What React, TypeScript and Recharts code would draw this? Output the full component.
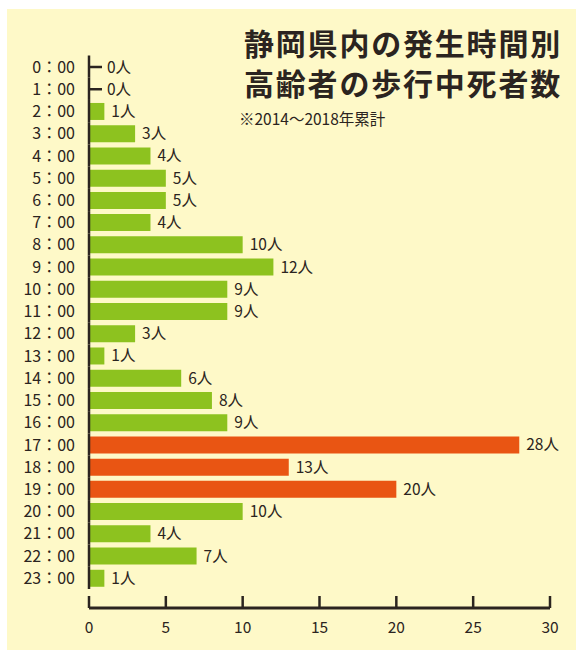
import { BarChart, Bar, XAxis, YAxis, Cell, LabelList, Rectangle } from 'recharts';

const hours = [
  '0：00', '1：00', '2：00', '3：00', '4：00', '5：00', '6：00', '7：00',
  '8：00', '9：00', '10：00', '11：00', '12：00', '13：00', '14：00', '15：00',
  '16：00', '17：00', '18：00', '19：00', '20：00', '21：00', '22：00', '23：00',
];
const deaths = [0, 0, 1, 3, 4, 5, 5, 4, 10, 12, 9, 9, 3, 1, 6, 8, 9, 28, 13, 20, 10, 4, 7, 1];
const peakHours = ['17：00', '18：00', '19：00'];
const xTicks = [0, 5, 10, 15, 20, 25, 30];

const titleLines = ['静岡県内の発生時間別', '高齢者の歩行中死者数'];
const note = '※2014～2018年累計';
const unit = '人';

const GREEN = '#8dc21f';
const ORANGE = '#e95513';
const INK = '#2b2420';
const CREAM = '#fef9c8';
const FONT = '"Noto Sans CJK JP", "Noto Sans", sans-serif';
const BAND = 22.23;

const data = hours.map((h, i) => ({ hour: h, value: deaths[i] }));

function HourTick(props: any) {
  const { x, y, payload } = props;
  return (
    <g>
      <line x1={x} x2={x} y1={y - BAND / 2} y2={y + BAND / 2} stroke={INK} strokeWidth={2.5} />
      <text x={x - 14} y={y} dy={6} textAnchor="end" fill={INK} fontSize={16} fontFamily={FONT}>
        {payload.value}
      </text>
    </g>
  );
}

function CountTick(props: any) {
  const { x, y, payload } = props;
  return (
    <g>
      <line x1={x} x2={x} y1={y - 12} y2={y} stroke={INK} strokeWidth={2.5} />
      <text x={x} y={y} dy={25} textAnchor="middle" fill={INK} fontSize={15.5} fontFamily={FONT}>
        {payload.value}
      </text>
    </g>
  );
}

// zero-length bars show a short dash off the axis plus their label
function BarShape(props: any) {
  const { x, y, width, height, value } = props;
  const v = Array.isArray(value) ? value[1] : value;
  if (!v) {
    const cy = y + height / 2;
    return (
      <g>
        <line x1={x} x2={x + 13} y1={cy} y2={cy} stroke={INK} strokeWidth={2.5} />
        <text x={x + 18} y={cy} dy={5.5} fill={INK} fontSize={15.5} fontFamily={FONT}>
          0{unit}
        </text>
      </g>
    );
  }
  return <Rectangle {...props} />;
}

function ValueLabel(props: any) {
  const { x, y, width, height, value } = props;
  if (!value) return null;
  const cy = y + height / 2;
  return (
    <text x={x + width + 7} y={cy} dy={5.5} fill={INK} fontSize={15.5} fontFamily={FONT}>
      {value}{unit}
    </text>
  );
}

export default function App() {
  return (
    <div style={{ position: 'absolute', left: 0, top: 0, width: 576, height: 650, background: '#fff' }}>
      <div style={{ position: 'absolute', left: 7, top: 9, width: 569, height: 641, background: CREAM }} />
      <div style={{ position: 'absolute', left: 0, top: 0 }}>
        <BarChart
          width={576}
          height={650}
          data={data}
          layout="vertical"
          margin={{ top: 55.5, right: 26, bottom: 0, left: 0 }}
        >
          <XAxis
            type="number"
            domain={[0, 30]}
            ticks={xTicks}
            height={42}
            axisLine={{ stroke: INK, strokeWidth: 3 }}
            tickLine={false}
            tickSize={0}
            tickMargin={0}
            tick={<CountTick />}
            interval={0}
          />
          <YAxis
            type="category"
            dataKey="hour"
            width={89}
            axisLine={false}
            tickLine={false}
            tickSize={0}
            tickMargin={0}
            tick={<HourTick />}
            interval={0}
            padding={{ top: 0, bottom: 19 }}
          />
          <Bar dataKey="value" barSize={17} isAnimationActive={false} shape={<BarShape />}>
            {data.map((d) => (
              <Cell key={d.hour} fill={peakHours.includes(d.hour) ? ORANGE : GREEN} />
            ))}
            <LabelList dataKey="value" content={<ValueLabel />} />
          </Bar>
        </BarChart>
      </div>
      <div
        style={{
          position: 'absolute', right: 14, top: 22, textAlign: 'right',
          fontFamily: FONT, fontWeight: 700, fontSize: 30, lineHeight: '40px', color: INK,
          letterSpacing: 1.8,
        }}
      >
        {titleLines.map((t) => (
          <div key={t}>{t}</div>
        ))}
      </div>
      <div style={{ position: 'absolute', left: 239, top: 107, fontFamily: FONT, fontSize: 15.5, lineHeight: '22px', color: INK }}>
        {note}
      </div>
    </div>
  );
}
